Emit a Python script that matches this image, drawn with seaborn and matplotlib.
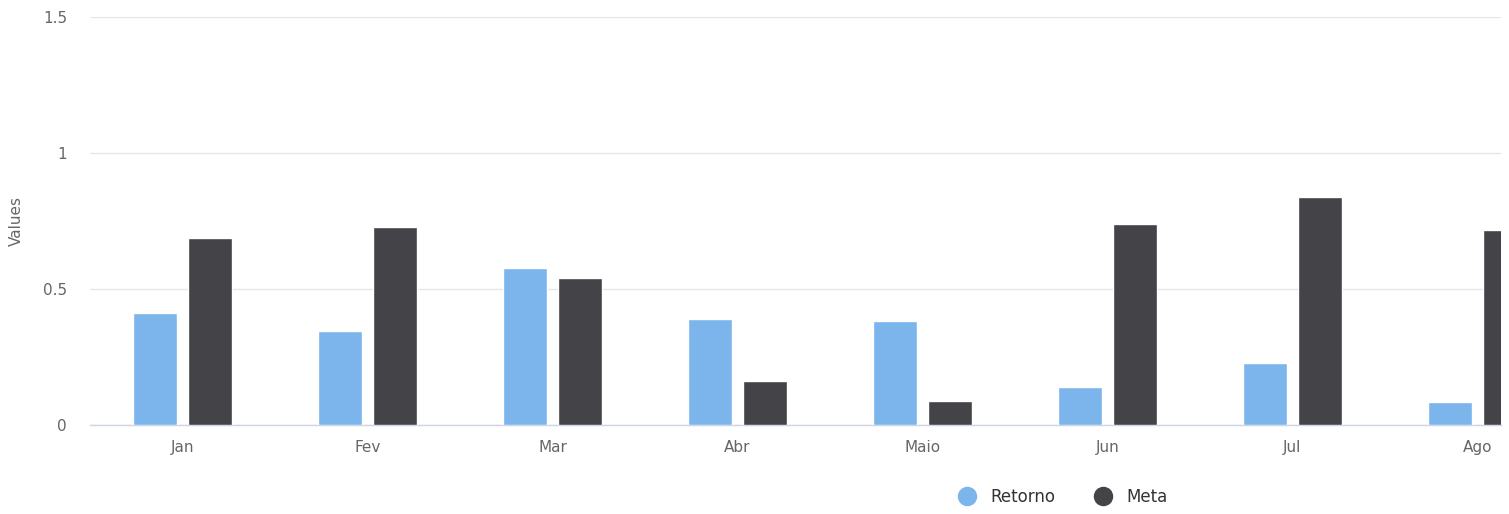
import pandas as pd
import matplotlib.pyplot as plt
import seaborn as sns
from matplotlib.lines import Line2D

# Data
months = ["Jan", "Fev", "Mar", "Abr", "Maio", "Jun", "Jul", "Ago"]
retorno = [0.41, 0.347, 0.576, 0.391, 0.384, 0.14, 0.229, 0.085]
meta = [0.686, 0.727, 0.542, 0.162, 0.089, 0.738, 0.838, 0.716]
series_names = ["Retorno", "Meta"]
colors = ["#7cb5ec", "#434348"]

df = pd.DataFrame({
    "month": months * 2,
    "value": retorno + meta,
    "series": [series_names[0]] * len(months) + [series_names[1]] * len(months),
})

sns.set_style("white")
plt.rcParams["font.family"] = ["DejaVu Sans"]

W, H = 1509, 514
fig = plt.figure(figsize=(W / 100, H / 100), dpi=100)
# plot area: x 90..1501 px, y 17..425 px (the original is clipped on the right)
ax = fig.add_axes([90 / W, 89 / H, (1501 - 90) / W, (425 - 17) / H])

sns.barplot(
    data=df, x="month", y="value", hue="series",
    palette=colors, saturation=1, width=0.6, gap=0.2,
    edgecolor="white", linewidth=1, legend=False, ax=ax,
)

cat_px = 185.0
ax.set_xlim(-0.5, -0.5 + (1501 - 90) / cat_px)
ax.set_ylim(0, 1.5)
ax.set_yticks([0, 0.5, 1, 1.5])
ax.set_yticklabels(["0", "0.5", "1", "1.5"])

ax.grid(axis="y", color="#e6e6e6", linewidth=1)
ax.set_axisbelow(True)
for side in ["top", "right", "left"]:
    ax.spines[side].set_visible(False)
ax.spines["bottom"].set_color("#ccd6eb")
ax.spines["bottom"].set_linewidth(1)
ax.spines["bottom"].set_zorder(0.5)

ax.tick_params(axis="x", length=0, pad=11, labelsize=11, labelcolor="#666666")
ax.tick_params(axis="y", length=0, pad=16.5, labelsize=11, labelcolor="#666666")
ax.set_xlabel("")
ax.set_ylabel("Values", fontsize=11, color="#666666")
ax.yaxis.set_label_coords((24 - 90) / (1501 - 90), 0.5)

handles = [
    Line2D([0], [0], marker="o", linestyle="", markersize=13,
           markerfacecolor=c, markeredgecolor=c)
    for c in colors
]
fig.legend(
    handles, series_names, loc="center", bbox_to_anchor=(1059 / W, 1 - 497 / H),
    ncol=2, frameon=False, fontsize=12, handletextpad=0.4, columnspacing=1.9,
    labelcolor="#333333",
)

fig.savefig("out.png", dpi=100)
